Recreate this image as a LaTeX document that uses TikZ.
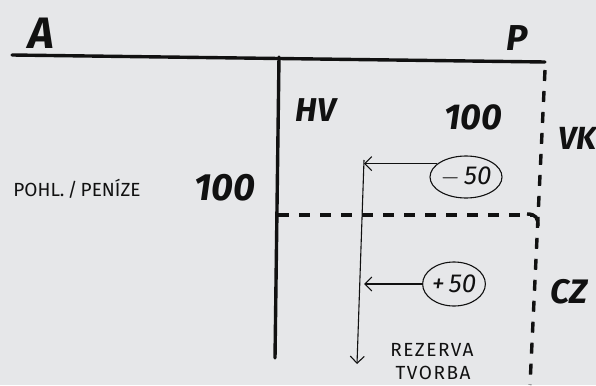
\documentclass[tikz,border=0pt]{standalone}
\usepackage{fontspec}
\setmainfont{Fira Sans}
\usetikzlibrary{arrows.meta,shapes.geometric}
\definecolor{bg}{HTML}{E6E7E9}
\definecolor{ink}{HTML}{111111}
\tikzset{
  thickline/.style={draw=ink,line width=3.4pt,line cap=round},
  dashline/.style={draw=ink,line width=3.4pt,dash pattern=on 11pt off 10pt},
  thinline/.style={draw=ink,line width=1.1pt},
  hand/.style={font=\bfseries\itshape\fontsize{#1}{#1}\selectfont,text=ink,inner sep=0pt},
  plain/.style={font=\fontsize{#1}{#1}\selectfont,text=ink,inner sep=0pt},
  spaced/.style={font=\addfontfeatures{LetterSpace=8}\fontsize{#1}{#1}\selectfont,text=ink,inner sep=0pt},
  oval/.style={ellipse,draw=ink,line width=1.1pt,inner sep=0pt,font=\itshape\fontsize{26}{26}\selectfont,text=ink},
  arr/.style={thinline,-{Straight Barb[length=7pt,width=14pt,line width=1.1pt]}}
}
\begin{document}
\begin{tikzpicture}[x=1pt,y=-1pt]
\fill[bg] (0,0) rectangle (596,385);
\useasboundingbox (0,0) rectangle (596,385);
% main T-account lines
\coordinate (tl) at (12,55);
\coordinate (tr) at (545,62);
\coordinate (vt) at (279,57);
\coordinate (vb) at (275,358);
\draw[thickline] (tl) -- (tr);
\draw[thickline] (vt) -- (vb);
% dashed lines
\coordinate (rt) at (545,70);
\coordinate (rb) at (530,385);
\draw[dashline] (rt) -- (rb);
\coordinate (hl) at (278,215);
\coordinate (hr) at (533,215);
\draw[dashline] (hl) -- (hr);
\draw[ink,line width=3.4pt] (527,214) .. controls (536,214) and (538,218) .. (538,226);
% labels
\node[hand=44] (A) at (41,33) {A};
\node[hand=36] (P) at (517,38) {P};
\node[hand=33] (HV) at (316,110) {HV};
\node[hand=36] (n1) at (473,117) {100};
\node[hand=32,anchor=west] (VK) at (558,138) {VK};
\node[plain=19] (pp) at (77,189) {POHL.\,/\,PENÍZE};
\node[hand=38] (n2) at (225,188) {100};
\node[hand=34,anchor=west] (CZ) at (550,292) {CZ};
\node[spaced=19] (rez) at (432,350) {REZERVA};
\node[spaced=19] (tv) at (433,373) {TVORBA};
% flows
\node[oval,minimum width=62pt,minimum height=42pt] (m50) at (466,177) {$-$\,50};
\node[oval,minimum width=56pt,minimum height=44pt] (p50) at (454,284) {+\,50};
\coordinate (lt) at (364,160);
\coordinate (lb) at (357,364);
\draw[arr] (lt) -- (lb);
\draw[arr] (m50.155) -- (m50.155 -| lt);
\draw[arr] (p50.west) -- (p50.west -| lt);
\end{tikzpicture}
\end{document}
